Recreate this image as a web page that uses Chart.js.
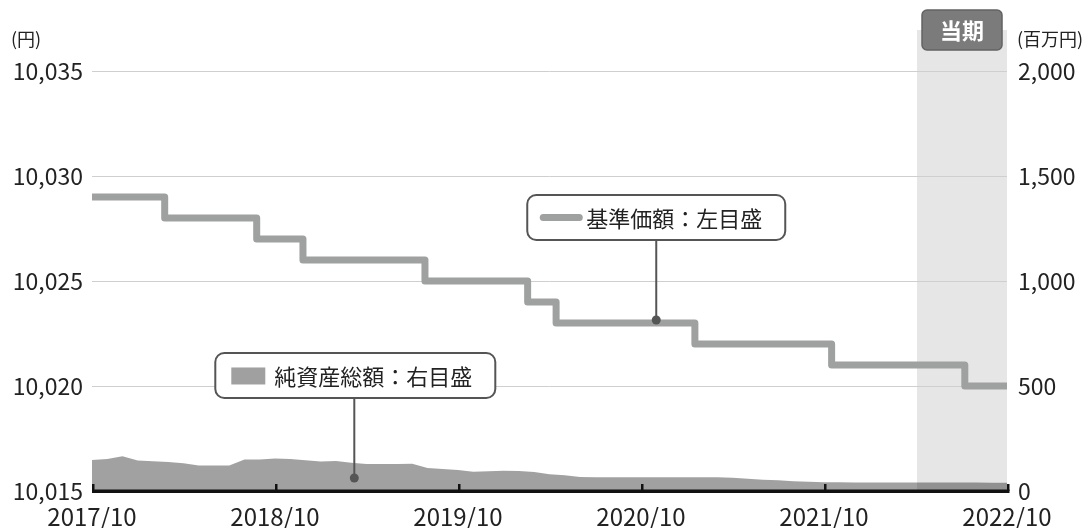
<!DOCTYPE html>
<html lang="ja">
<head>
<meta charset="utf-8">
<script src="https://cdn.jsdelivr.net/npm/chart.js@4.4.1/dist/chart.umd.min.js"></script>
<style>
  html, body { margin: 0; padding: 0; background: #fff; }
  canvas { display: block; }
</style>
</head>
<body>
<canvas id="chart" width="1091" height="528"></canvas>
<script>
// 基準価額（円）: 値が変わった日とその値
const navDates = ["2017/10/01", "2018/02/24", "2018/08/25", "2018/11/26", "2019/07/26",
  "2020/02/18", "2020/04/14", "2021/01/17", "2021/10/16", "2022/07/08", "2022/10/01"];
const navValues = [10029, 10028, 10027, 10026, 10025, 10024, 10023, 10022, 10021, 10020, 10020];

// 純資産総額（百万円）: 2017/10 から月次
const assetStart = "2017/10/01";
const assetValues = [
  148, 152, 165, 145, 142, 138, 132, 121, 121, 121, 150, 150,
  155, 152, 146, 140, 143, 135, 129, 129, 129, 130, 110, 105,
  100, 92, 94, 97, 95, 91, 80, 75, 67, 65, 65, 65,
  65, 66, 66, 66, 66, 65, 63, 58, 53, 51, 46, 44,
  42, 42, 41, 41, 41, 41, 40, 40, 40, 40, 40, 39, 39
];

// 目盛
const xTickLabels = ["2017/10", "2018/10", "2019/10", "2020/10", "2021/10", "2022/10"];
const leftTicks = [10015, 10020, 10025, 10030, 10035];
const rightTicks = [0, 500, 1000, 1500, 2000];

// 当期
const periodStart = "2022/04/04";
const periodEnd = "2022/10/01";

const FONT = '"Noto Sans CJK JP", "Noto Sans", sans-serif';

// 2017/10/01 からの月数
function toMonths(d) {
  const [y, m, dd] = d.split("/").map(Number);
  return (y - 2017) * 12 + (m - 10) + ((dd || 1) - 1) / 30;
}

const navData = navDates.map((d, i) => ({ x: toMonths(d), y: navValues[i] }));
const assetData = assetValues.map((v, i) => ({ x: toMonths(assetStart) + i, y: v }));
const xTickValues = xTickLabels.map(toMonths);

function roundRect(ctx, x, y, w, h, r) {
  ctx.beginPath();
  ctx.moveTo(x + r, y);
  ctx.arcTo(x + w, y, x + w, y + h, r);
  ctx.arcTo(x + w, y + h, x, y + h, r);
  ctx.arcTo(x, y + h, x, y, r);
  ctx.arcTo(x, y, x + w, y, r);
  ctx.closePath();
}

const decorations = {
  id: "decorations",
  beforeDraw(chart) {
    const { ctx, chartArea, scales } = chart;
    const x0 = scales.x.getPixelForValue(toMonths(periodStart));
    const x1 = scales.x.getPixelForValue(toMonths(periodEnd));
    ctx.save();
    ctx.fillStyle = "#e6e6e6";
    ctx.fillRect(x0, 30, x1 - x0, chartArea.bottom - 30);
    ctx.restore();
  },
  afterDatasetsDraw(chart) {
    const { ctx, chartArea, scales } = chart;
    ctx.save();
    ctx.fillStyle = "#111";
    // 横軸
    ctx.fillRect(chartArea.left, chartArea.bottom - 1.5, chartArea.right - chartArea.left + 2.5, 3.5);
    // 目盛線（上向き）
    xTickValues.forEach(v => {
      const px = scales.x.getPixelForValue(v);
      ctx.fillRect(px, chartArea.bottom - 7, 2.5, 7);
    });
    ctx.restore();
  },
  afterDraw(chart) {
    const { ctx, scales } = chart;
    ctx.save();

    // 単位
    ctx.fillStyle = "#222";
    ctx.font = "18px " + FONT;
    ctx.textBaseline = "middle";
    ctx.textAlign = "left";
    ctx.fillText("(円)", 11, 39);
    ctx.fillText("(百万円)", 1017, 39);

    // 当期ラベル
    const px0 = scales.x.getPixelForValue(toMonths(periodStart));
    const px1 = scales.x.getPixelForValue(toMonths(periodEnd));
    const cx = (px0 + px1) / 2;
    roundRect(ctx, cx - 40, 10, 80, 40, 5);
    ctx.fillStyle = "#7b7b7b";
    ctx.fill();
    ctx.strokeStyle = "#636363";
    ctx.lineWidth = 1.5;
    ctx.stroke();
    ctx.fillStyle = "#fff";
    ctx.font = "bold 22px " + FONT;
    ctx.textAlign = "center";
    ctx.fillText("当期", cx, 31);

    // 吹き出し
    function callout(dotX, dotY, boxW, boxLeftOff, drawSample, label) {
      const boxTop = dotY - 125;
      const boxH = 45;
      const boxX = dotX - boxLeftOff;
      ctx.strokeStyle = "#555";
      ctx.lineWidth = 2;
      ctx.beginPath();
      ctx.moveTo(dotX, boxTop + boxH);
      ctx.lineTo(dotX, dotY);
      ctx.stroke();
      ctx.fillStyle = "#555";
      ctx.beginPath();
      ctx.arc(dotX, dotY, 4.5, 0, Math.PI * 2);
      ctx.fill();
      roundRect(ctx, boxX, boxTop, boxW, boxH, 9);
      ctx.fillStyle = "#fff";
      ctx.fill();
      ctx.stroke();
      drawSample(boxX, boxTop + boxH / 2);
      ctx.fillStyle = "#222";
      ctx.font = "22px " + FONT;
      ctx.textAlign = "left";
      ctx.textBaseline = "middle";
      ctx.fillText(label, boxX + 59, boxTop + boxH / 2 + 1);
    }

    const navNoteX = scales.x.getPixelForValue(toMonths("2020/11/01"));
    const navNoteY = scales.y.getPixelForValue(10023) - 3;
    callout(navNoteX, navNoteY, 258, 129, (bx, by) => {
      ctx.strokeStyle = "#9fa0a0";
      ctx.lineWidth = 7;
      ctx.lineCap = "round";
      ctx.beginPath();
      ctx.moveTo(bx + 16, by);
      ctx.lineTo(bx + 52, by);
      ctx.stroke();
      ctx.lineCap = "butt";
    }, "基準価額：左目盛");

    const assetNoteX = scales.x.getPixelForValue(toMonths("2019/03/07"));
    const assetNoteY = scales.y1.getPixelForValue(62);
    callout(assetNoteX, assetNoteY, 280, 139, (bx, by) => {
      ctx.fillStyle = "#a0a0a0";
      ctx.fillRect(bx + 16, by - 8, 34, 17);
    }, "純資産総額：右目盛");

    ctx.restore();
  }
};

new Chart(document.getElementById("chart"), {
  type: "line",
  data: {
    datasets: [
      {
        label: "基準価額",
        data: navData,
        yAxisID: "y",
        stepped: "before",
        borderColor: "#9fa0a0",
        borderWidth: 7,
        borderJoinStyle: "round",
        borderCapStyle: "butt",
        pointRadius: 0,
        fill: false,
        order: 0
      },
      {
        label: "純資産総額",
        data: assetData,
        yAxisID: "y1",
        backgroundColor: "rgba(0,0,0,0.37)",
        borderWidth: 0,
        pointRadius: 0,
        fill: "origin",
        tension: 0,
        order: 1
      }
    ]
  },
  options: {
    responsive: false,
    animation: false,
    layout: { padding: { top: 71, left: 0, right: 0, bottom: 0 } },
    plugins: {
      legend: { display: false },
      tooltip: { enabled: false }
    },
    scales: {
      x: {
        type: "linear",
        min: xTickValues[0],
        max: xTickValues[xTickValues.length - 1],
        afterBuildTicks: s => { s.ticks = xTickValues.map(v => ({ value: v })); },
        ticks: {
          callback: (v, i) => xTickLabels[i],
          color: "#222",
          font: { family: FONT, size: 24 },
          padding: 11,
          maxRotation: 0,
          autoSkip: false
        },
        grid: { display: false, drawTicks: false },
        border: { display: false },
        afterFit: s => { s.height = 37; }
      },
      y: {
        position: "left",
        min: 10015,
        max: 10035,
        afterBuildTicks: s => { s.ticks = leftTicks.map(v => ({ value: v })); },
        ticks: {
          callback: v => v.toLocaleString("en-US"),
          color: "#222",
          font: { family: FONT, size: 23 },
          padding: 9
        },
        grid: { color: "#cfcfcf", lineWidth: 1, drawTicks: false },
        border: { display: false },
        afterFit: s => { s.width = 92; }
      },
      y1: {
        position: "right",
        min: 0,
        max: 2000,
        afterBuildTicks: s => { s.ticks = rightTicks.map(v => ({ value: v })); },
        ticks: {
          callback: v => v.toLocaleString("en-US"),
          color: "#222",
          font: { family: FONT, size: 23 },
          padding: 11
        },
        grid: { display: false, drawTicks: false },
        border: { display: false },
        afterFit: s => { s.width = 84; }
      }
    }
  },
  plugins: [decorations]
});
</script>
</body>
</html>
